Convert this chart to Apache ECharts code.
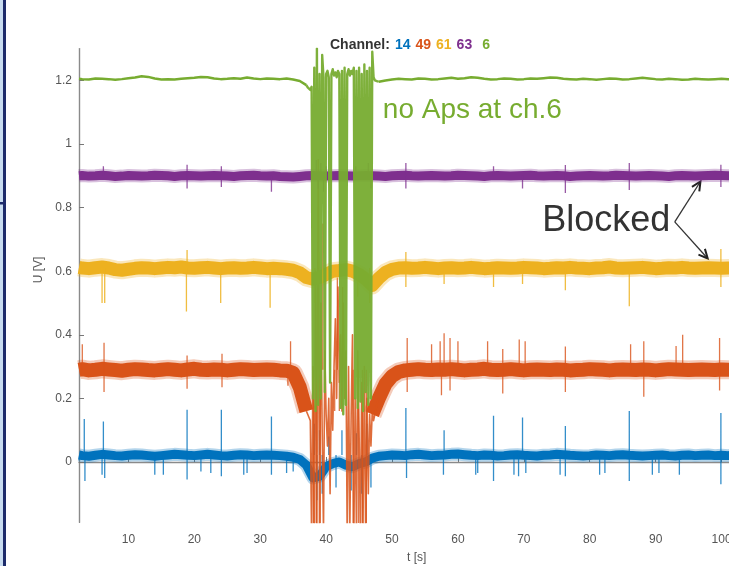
<!DOCTYPE html>
<html>
<head>
<meta charset="utf-8">
<script src="https://cdn.jsdelivr.net/npm/echarts@6/dist/echarts.min.js"></script>
<style>html,body{margin:0;padding:0;background:#fff;}#c{width:729px;height:566px;}</style>
</head>
<body>
<div id="c"></div>
<script>
// ---------- DATA ----------
const CHANNELS = ['14', '49', '61', '63', '6'];
const X_TICKS = [10, 20, 30, 40, 50, 60, 70, 80, 90, 100];
const Y_TICKS = [0, 0.2, 0.4, 0.6, 0.8, 1, 1.2];

// baseline samples, t = 2.5, 3 .. 102 s (1 s step); null = covered by disturbance trace
const BLUE_BASE = [
  0.022,0.02,0.018,0.021,0.024,0.022,0.02,0.019,0.021,0.023,
  0.022,0.02,0.018,0.02,0.022,0.024,0.023,0.021,0.02,0.022,
  0.024,0.022,0.02,0.019,0.021,0.023,0.022,0.02,0.021,0.022,
  0.021,0.02,0.018,0.015,0.008,-0.01,-0.05,-0.045,-0.015,-0.005,
  0.0,-0.01,-0.015,-0.005,0.0,0.012,0.018,0.02,0.022,0.021,
  0.02,0.023,0.024,0.022,0.02,0.021,0.022,0.024,0.025,0.023,
  0.021,0.02,0.022,0.021,0.019,0.02,0.022,0.023,0.021,0.02,
  0.019,0.021,0.022,0.024,0.023,0.021,0.02,0.019,0.02,0.022,
  0.021,0.02,0.022,0.023,0.021,0.02,0.019,0.02,0.021,0.022,
  0.02,0.019,0.021,0.022,0.02,0.021,0.022,0.02,0.021,0.02,
  0.021
];
const ORANGE_BASE = [
  0.29,0.292,0.288,0.29,0.293,0.291,0.289,0.287,0.29,0.292,
  0.291,0.289,0.288,0.29,0.292,0.29,0.288,0.291,0.293,0.29,
  0.289,0.291,0.29,0.288,0.29,0.292,0.291,0.289,0.29,0.291,
  0.29,0.288,0.287,0.28,0.235,0.16,null,null,null,null,
  null,null,null,null,null,0.15,0.2,0.245,0.27,0.283,
  0.288,0.29,0.292,0.29,0.289,0.291,0.29,0.292,0.29,0.288,
  0.29,0.291,0.293,0.29,0.289,0.29,0.292,0.29,0.288,0.29,
  0.291,0.29,0.289,0.291,0.29,0.288,0.289,0.29,0.292,0.291,
  0.29,0.288,0.29,0.291,0.29,0.289,0.291,0.29,0.288,0.29,
  0.292,0.291,0.29,0.289,0.29,0.291,0.29,0.289,0.291,0.29,
  0.29
];
const YELLOW_BASE = [
  0.612,0.61,0.608,0.611,0.613,0.61,0.605,0.603,0.606,0.609,
  0.611,0.61,0.608,0.61,0.612,0.611,0.613,0.61,0.609,0.611,
  0.612,0.61,0.608,0.61,0.611,0.609,0.61,0.612,0.61,0.608,
  0.609,0.608,0.606,0.603,0.595,0.58,0.575,0.58,0.59,0.6,
  0.602,0.605,0.6,0.59,0.575,0.555,0.578,0.596,0.606,0.61,
  0.611,0.609,0.61,0.612,0.61,0.608,0.61,0.611,0.609,0.61,
  0.612,0.61,0.608,0.609,0.611,0.61,0.609,0.61,0.612,0.611,
  0.61,0.608,0.609,0.611,0.61,0.612,0.61,0.609,0.608,0.61,
  0.611,0.613,0.61,0.609,0.61,0.611,0.612,0.61,0.608,0.609,
  0.611,0.61,0.612,0.61,0.609,0.61,0.611,0.61,0.609,0.61,
  0.611
];
const PURPLE_BASE = [
  0.9,0.901,0.899,0.9,0.902,0.9,0.898,0.899,0.901,0.9,
  0.899,0.9,0.902,0.901,0.9,0.898,0.9,0.901,0.9,0.899,
  0.9,0.901,0.9,0.899,0.898,0.9,0.901,0.902,0.9,0.899,
  0.9,0.898,0.897,0.896,0.898,0.9,0.901,0.9,0.899,0.9,
  0.901,0.9,0.899,0.9,0.901,0.9,0.899,0.898,0.9,0.901,
  0.902,0.9,0.899,0.9,0.901,0.9,0.899,0.9,0.902,0.901,
  0.9,0.899,0.898,0.9,0.901,0.9,0.899,0.9,0.901,0.902,
  0.9,0.899,0.9,0.901,0.9,0.898,0.899,0.9,0.901,0.9,
  0.899,0.9,0.902,0.901,0.9,0.899,0.9,0.901,0.9,0.899,
  0.898,0.9,0.901,0.9,0.899,0.9,0.901,0.902,0.901,0.9,
  0.9
];
const GREEN_BASE = [
  1.205,1.204,1.203,1.206,1.205,1.204,1.202,1.204,1.207,1.209,
  1.213,1.211,1.206,1.203,1.204,1.203,1.205,1.207,1.208,1.211,
  1.21,1.206,1.204,1.205,1.207,1.205,1.209,1.206,1.204,1.206,
  1.205,1.204,1.206,1.203,1.198,1.185,null,null,null,null,
  null,null,null,null,null,null,1.196,1.2,1.203,1.205,
  1.204,1.203,1.206,1.205,1.203,1.204,1.206,1.208,1.205,1.207,
  1.21,1.208,1.205,1.203,1.204,1.206,1.205,1.203,1.204,1.206,
  1.205,1.207,1.209,1.208,1.205,1.204,1.203,1.205,1.204,1.202,
  1.204,1.206,1.205,1.203,1.204,1.206,1.208,1.206,1.204,1.203,
  1.205,1.204,1.202,1.203,1.205,1.204,1.203,1.204,1.205,1.204,
  1.203
];

// disturbance traces, t = 37.0 .. 48.0 s (0.2 s step)
const GREEN_DIST = [
  1.185,1.178,1.172,1.17,1.18,0.2,1.24,0.16,1.3,0.18,
  1.22,0.2,1.28,1.21,0.22,1.22,1.23,1.21,0.25,1.22,
  1.235,1.215,1.225,1.21,1.23,1.22,0.17,1.23,0.15,1.24,
  0.18,1.22,1.235,1.215,1.23,1.22,1.24,0.2,1.23,0.17,
  1.24,0.19,1.22,0.16,1.25,0.22,1.23,0.18,1.24,0.2,
  1.29,1.21,1.2,1.198,1.197,1.196
];
const ORANGE_DIST = [
  0.16,0.15,0.14,0.13,-0.25,0.3,-0.25,0.6,-0.2,0.95,
  -0.25,0.5,0.1,-0.22,0.35,0.15,0.05,0.2,-0.1,0.25,
  0.1,0.3,0.45,0.2,0.55,0.25,0.4,0.16,0.5,0.2,
  0.35,-0.25,0.3,-0.2,0.15,0.4,-0.25,0.2,-0.22,0.35,
  0.1,-0.25,0.25,-0.2,0.3,-0.25,0.2,-0.1,0.15,0.05,
  0.16,0.13,0.15,0.17,0.19,0.2
];

// spikes [t, peak value]
const BLUE_LEVEL = 0.022, ORANGE_LEVEL = 0.29, YELLOW_LEVEL = 0.61, PURPLE_LEVEL = 0.9;
const BLUE_SPIKES = [
  [3.3,0.135],[6.2,0.127],[18.9,0.164],[24.1,0.164],[31.7,0.143],[52.1,0.17],[57.9,0.10],
  [65.4,0.145],[69.8,0.14],[76.3,0.113],[86.0,0.16],[99.9,0.154],
  [3.4,-0.06],[6.0,-0.04],[6.4,-0.05],[14.0,-0.04],[15.3,-0.04],[18.9,-0.055],[21.0,-0.03],
  [22.5,-0.035],[24.1,-0.045],[27.5,-0.04],[28.0,-0.035],[31.7,-0.04],[34.0,-0.035],[35.0,-0.03],
  [52.2,-0.05],[57.8,-0.04],[62.7,-0.04],[63.0,-0.035],[65.4,-0.06],[68.5,-0.04],[69.2,-0.045],
  [70.3,-0.035],[75.5,-0.04],[76.3,-0.045],[81.5,-0.04],[82.3,-0.035],[86.0,-0.06],[89.5,-0.04],
  [90.5,-0.035],[93.6,-0.04],[99.9,-0.07],
  [38.2,0.12],[38.6,-0.12],[39.0,0.1],[39.4,-0.1],[40.4,0.08],[41.5,-0.08],[42.4,0.1],
  [43.8,-0.09],[44.6,0.09],[45.4,-0.1],[46.2,0.12],[46.8,-0.08]
];
const ORANGE_SPIKES = [
  [3.0,0.37],[6.3,0.375],[18.9,0.335],[24.2,0.34],[34.6,0.38],[52.3,0.39],[56.0,0.37],[57.3,0.38],
  [57.9,0.405],[58.8,0.39],[60.0,0.38],[64.5,0.38],[66.8,0.355],[69.3,0.385],[70.2,0.38],[76.3,0.363],
  [86.2,0.37],[88.2,0.38],[93.1,0.365],[94.1,0.40],[99.7,0.39],
  [6.3,0.22],[18.9,0.23],[24.2,0.235],[34.2,0.24],[52.3,0.22],[57.5,0.21],[58.8,0.225],[66.8,0.215],
  [76.3,0.22],[88.2,0.205],[99.7,0.225],
  [38.1,-0.25],[38.5,-0.25],[39.1,-0.25],[39.5,0.75],[41.3,0.16],[41.7,0.58],[42.0,0.16],[42.5,0.55],
  [44.1,-0.25],[44.9,-0.25],[45.5,-0.25],[46.1,-0.25]
];
const YELLOW_SPIKES = [
  [6.0,0.5],[6.4,0.5],[18.8,0.473],[24.0,0.5],[31.5,0.485],[52.1,0.55],[57.9,0.56],[65.4,0.55],
  [69.8,0.56],[76.3,0.54],[86.0,0.49],[99.9,0.55],
  [18.9,0.667],[52.1,0.66],[99.9,0.67],
  [38.3,0.5],[38.9,0.66],[44.8,0.52],[46.6,0.5]
];
const PURPLE_SPIKES = [
  [6.2,0.93],[18.9,0.935],[24.1,0.93],[52.1,0.94],[65.4,0.93],[76.3,0.934],[86.0,0.94],[99.9,0.935],
  [18.9,0.86],[24.1,0.865],[31.7,0.85],[52.1,0.86],[69.8,0.86],[76.3,0.846],[86.0,0.855],[99.9,0.865],
  [38.5,0.95],[38.8,0.86],[39.2,0.94],[39.6,0.85],[40.0,0.93],[44.5,0.93],[46.4,0.94],[46.8,0.86]
];

// ---------- BUILD ----------
const X_MIN = 2.5, X_MAX = 105;
const COLORS = ['#0072BD', '#D95319', '#EDB120', '#7E2F8E', '#77AC30'];
const T_BASE = []; for (let t = 2; t <= 102; t++) T_BASE.push(Math.max(t, X_MIN));
const T_DIST = []; for (let i = 0; i < GREEN_DIST.length; i++) T_DIST.push(Math.round((37 + 0.2 * i) * 10) / 10);

function series2(ts, vals) { return ts.map((t, i) => [t, vals[i] === null ? '-' : vals[i]]); }
function spikeData(list, level) {
  const d = [];
  list.forEach(([t, v]) => { d.push([t, level], [t, v], [t, '-']); });
  return d;
}
function line(data, color, width, opacity) {
  return { type: 'line', data, showSymbol: false, symbol: 'none', silent: true, connectNulls: false,
    lineStyle: { color, width, opacity, cap: 'butt', join: 'round' } };
}

const series = [
  line(series2(T_BASE, BLUE_BASE), COLORS[0], 13, 0.3),
  line(series2(T_BASE, BLUE_BASE), COLORS[0], 9, 1),
  line(spikeData(BLUE_SPIKES, BLUE_LEVEL), COLORS[0], 1.3, 0.8),
  line(series2(T_BASE, ORANGE_BASE), COLORS[1], 19, 0.3),
  line(series2(T_BASE, ORANGE_BASE), COLORS[1], 14, 1),
  line(spikeData(ORANGE_SPIKES, ORANGE_LEVEL), COLORS[1], 1.3, 0.8),
  line(series2(T_DIST, ORANGE_DIST), COLORS[1], 1.6, 0.85),
  line(series2(T_BASE, YELLOW_BASE), COLORS[2], 18, 0.3),
  line(series2(T_BASE, YELLOW_BASE), COLORS[2], 13, 1),
  line(spikeData(YELLOW_SPIKES, YELLOW_LEVEL), COLORS[2], 1.3, 0.85),
  line(series2(T_BASE, PURPLE_BASE), COLORS[3], 13, 0.3),
  line(series2(T_BASE, PURPLE_BASE), COLORS[3], 9, 1),
  line(spikeData(PURPLE_SPIKES, PURPLE_LEVEL), COLORS[3], 1.3, 0.8),
  line(series2(T_BASE, GREEN_BASE), COLORS[4], 2.5, 1),
  line(series2(T_DIST, GREEN_DIST), COLORS[4], 2.4, 0.95)
];

const rich = { k: { color: '#333', fontWeight: 'bold', fontSize: 14, fontFamily: 'Liberation Sans' } };
CHANNELS.forEach((c, i) => { rich['c' + i] = { color: COLORS[i], fontWeight: 'bold', fontSize: 14, fontFamily: 'Liberation Sans' }; });
const titleText = '{k|Channel:} ' + CHANNELS.map((c, i) => '{c' + i + '|' + c + '}').join(' ').replace(/\{c4\|/, ' {c4|');

const axisFont = { color: '#555', fontSize: 12, fontFamily: 'Liberation Sans' };

const chart = echarts.init(document.getElementById('c'), null, { renderer: 'canvas' });
chart.setOption({
  animation: false,
  backgroundColor: '#ffffff',
  title: { text: titleText, left: 325, top: 31, textStyle: { rich } },
  grid: { left: 79, top: 48.6, width: 675.5, height: 473.8, containLabel: false, outerBoundsMode: 'none' },
  xAxis: {
    type: 'value', min: X_MIN, max: X_MAX,
    name: 't [s]', nameLocation: 'middle', nameGap: 29, nameTextStyle: axisFont,
    axisLine: { lineStyle: { color: '#8a8a8a', width: 1.4 } },
    axisTick: { inside: true, length: 5, customValues: X_TICKS, lineStyle: { color: '#777' } },
    axisLabel: Object.assign({ customValues: X_TICKS, margin: 11 }, axisFont),
    splitLine: { show: false }
  },
  yAxis: {
    type: 'value', min: -0.19, max: 1.3,
    axisLine: { show: true, lineStyle: { color: '#8a8a8a', width: 1.4 } },
    axisTick: { show: true, inside: true, length: 5, customValues: Y_TICKS, lineStyle: { color: '#777' } },
    axisLabel: Object.assign({ customValues: Y_TICKS, margin: 7 }, axisFont),
    splitLine: { show: false }
  },
  series
});

// ---------- ANNOTATIONS (anchored in data coordinates) ----------
const NOTE_POS = [48.6, 1.107];
const BLOCKED_POS = [72.8, 0.758];
const ARROW_FROM = [92.9, 0.755];
const ARROW_TIPS = [[96.8, 0.882], [97.9, 0.64]];
const px = p => chart.convertToPixel({ gridIndex: 0 }, p);

const g = [];
g.push({ type: 'rect', left: 0, top: 0, shape: { width: 3, height: 566 }, style: { fill: '#c8dcf0' }, silent: true });
g.push({ type: 'rect', left: 3, top: 0, shape: { width: 3, height: 566 }, style: { fill: '#1d2b6b' }, silent: true });
g.push({ type: 'rect', left: 0, top: 202, shape: { width: 4, height: 2.5 }, style: { fill: '#1d2b6b' }, silent: true });
g.push({ type: 'text', x: 39, y: 270, rotation: Math.PI / 2,
  style: { text: 'U [V]', fill: '#555', font: '12px "Liberation Sans"', textAlign: 'center', textVerticalAlign: 'middle' } });
const np = px(NOTE_POS);
g.push({ type: 'text', x: np[0], y: np[1],
  style: { text: 'no Aps at ch.6', fill: COLORS[4], font: '28px "Liberation Sans"', textAlign: 'left', textVerticalAlign: 'middle' } });
const bp = px(BLOCKED_POS);
g.push({ type: 'text', x: bp[0], y: bp[1],
  style: { text: 'Blocked', fill: '#333', font: '36px "Liberation Sans"', textAlign: 'left', textVerticalAlign: 'middle' } });
const a0 = px(ARROW_FROM);
ARROW_TIPS.forEach(tp => {
  const p = px(tp);
  g.push({ type: 'line', shape: { x1: a0[0], y1: a0[1], x2: p[0], y2: p[1] }, style: { stroke: '#333', lineWidth: 1.3 } });
  const ang = Math.atan2(a0[1] - p[1], a0[0] - p[0]);
  const L = 10, w = 0.45;
  g.push({ type: 'polyline', shape: { points: [
    [p[0] + L * Math.cos(ang + w), p[1] + L * Math.sin(ang + w)], [p[0], p[1]],
    [p[0] + L * Math.cos(ang - w), p[1] + L * Math.sin(ang - w)] ] },
    style: { stroke: '#222', lineWidth: 2, fill: null } });
});
chart.setOption({ graphic: g });
</script>
</body>
</html>
